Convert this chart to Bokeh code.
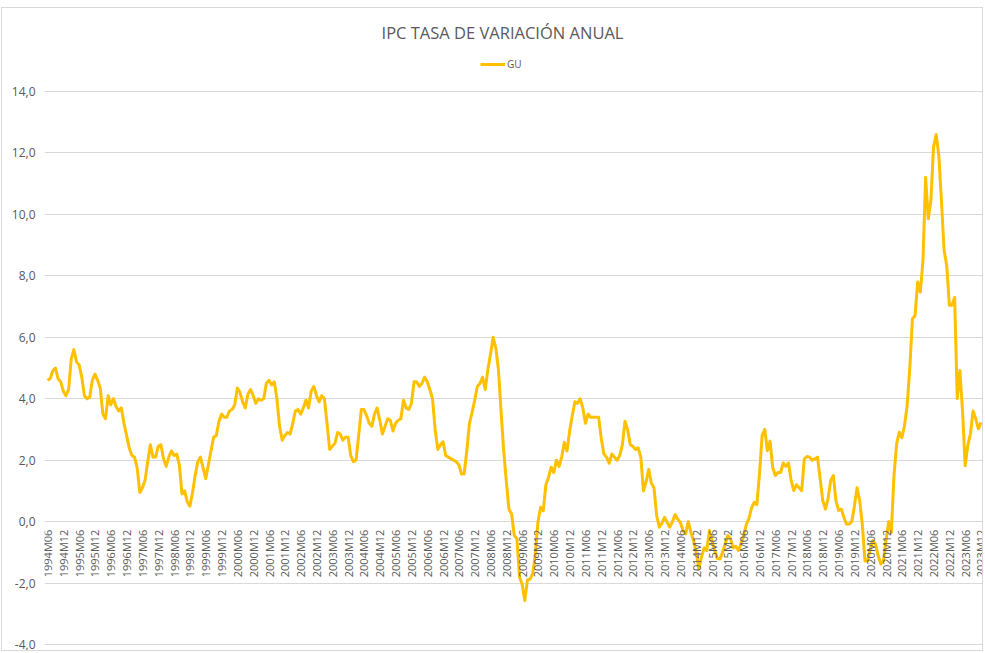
import math
from bokeh.plotting import figure
from bokeh.models import (ColumnDataSource, Range1d, FixedTicker, Label,
                          Legend, LegendItem)
from bokeh.embed import file_html
from bokeh.resources import INLINE
from bokeh.core.properties import value

title_text = "IPC TASA DE VARIACIÓN ANUAL"
series_name = "GU"
first_year, first_month = 1994, 6

# Annual CPI variation rate (%), monthly
gu_1994 = [4.6, 4.65, 4.9, 5.0, 4.65, 4.55, 4.25]  # Jun-Dec
gu_1995 = [4.1, 4.3, 5.3, 5.6, 5.2, 5.1, 4.7, 4.1, 4.0, 4.05, 4.6, 4.8]
gu_1996 = [4.6, 4.35, 3.5, 3.35, 4.1, 3.8, 4.0, 3.75, 3.6, 3.7, 3.2, 2.8]
gu_1997 = [2.4, 2.15, 2.1, 1.75, 0.95, 1.1, 1.35, 1.95, 2.5, 2.1, 2.1, 2.45]
gu_1998 = [2.5, 2.05, 1.8, 2.1, 2.3, 2.15, 2.2, 1.85, 0.9, 1.0, 0.65, 0.5]
gu_1999 = [0.95, 1.5, 1.95, 2.1, 1.75, 1.4, 1.85, 2.3, 2.75, 2.8, 3.25, 3.5]
gu_2000 = [3.4, 3.4, 3.6, 3.65, 3.8, 4.35, 4.2, 3.9, 3.7, 4.15, 4.3, 4.1]
gu_2001 = [3.85, 4.0, 3.95, 4.0, 4.5, 4.6, 4.45, 4.55, 4.0, 3.1, 2.65, 2.8]
gu_2002 = [2.9, 2.85, 3.2, 3.6, 3.65, 3.5, 3.7, 3.95, 3.7, 4.25, 4.4, 4.1]
gu_2003 = [3.9, 4.1, 4.0, 3.2, 2.35, 2.45, 2.55, 2.9, 2.85, 2.65, 2.75, 2.75]
gu_2004 = [2.15, 1.95, 2.0, 2.8, 3.65, 3.65, 3.45, 3.2, 3.1, 3.5, 3.7, 3.3]
gu_2005 = [2.85, 3.1, 3.35, 3.3, 2.95, 3.2, 3.3, 3.35, 3.95, 3.7, 3.65, 3.85]
gu_2006 = [4.55, 4.55, 4.4, 4.5, 4.7, 4.55, 4.3, 4.0, 3.0, 2.35, 2.5, 2.6]
gu_2007 = [2.15, 2.1, 2.05, 2.0, 1.95, 1.85, 1.55, 1.55, 2.3, 3.2, 3.55, 3.95]
gu_2008 = [4.4, 4.5, 4.7, 4.3, 4.95, 5.45, 6.0, 5.65, 4.95, 3.6, 2.3, 1.3]
gu_2009 = [0.4, 0.25, -0.45, -0.55, -1.8, -2.05, -2.57, -1.9, -1.87, -1.7, -1.05, 0.0]
gu_2010 = [0.47, 0.35, 1.2, 1.44, 1.77, 1.6, 2.0, 1.8, 2.1, 2.58, 2.3, 2.95]
gu_2011 = [3.45, 3.9, 3.85, 4.0, 3.7, 3.2, 3.5, 3.4, 3.4, 3.4, 3.4, 2.7]
gu_2012 = [2.2, 2.1, 1.9, 2.2, 2.1, 2.0, 2.15, 2.5, 3.27, 3.0, 2.5, 2.45]
gu_2013 = [2.35, 2.4, 2.1, 1.0, 1.3, 1.7, 1.25, 1.1, 0.2, -0.18, -0.05, 0.14]
gu_2014 = [-0.03, -0.18, 0.0, 0.23, 0.08, -0.03, -0.29, -0.4, 0.0, -0.35, -0.62, -1.0]
gu_2015 = [-1.54, -1.16, -0.85, -0.94, -0.29, -0.62, -0.94, -1.2, -1.22, -1.0, -0.72, -0.45]
gu_2016 = [-0.56, -0.85, -0.8, -0.94, -0.72, -0.45, -0.1, 0.1, 0.45, 0.63, 0.55, 1.55]
gu_2017 = [2.8, 3.0, 2.31, 2.62, 1.77, 1.5, 1.6, 1.6, 1.91, 1.8, 1.91, 1.34]
gu_2018 = [1.01, 1.2, 1.1, 1.01, 2.04, 2.12, 2.1, 2.0, 2.04, 2.1, 1.4, 0.68]
gu_2019 = [0.41, 0.74, 1.34, 1.5, 0.68, 0.36, 0.41, 0.14, -0.08, -0.08, 0.0, 0.5]
gu_2020 = [1.1, 0.68, -0.1, -1.28, -1.28, -0.89, -0.62, -0.73, -1.11, -1.38, -1.28, -0.6]
gu_2021 = [0.0, -0.35, 1.5, 2.53, 2.91, 2.73, 3.13, 3.78, 5.0, 6.6, 6.71, 7.8]
gu_2022 = [7.47, 8.5, 11.2, 9.86, 10.46, 12.19, 12.6, 11.92, 10.46, 8.83, 8.34, 7.04]
gu_2023 = [7.04, 7.3, 4.0, 4.92, 3.6, 1.82, 2.48, 2.86, 3.6, 3.35, 3.02, 3.23]

y_ticks = [-4, -2, 0, 2, 4, 6, 8, 10, 12, 14]
y_tick_labels = ["-4,0", "-2,0", "0,0", "2,0", "4,0", "6,0", "8,0", "10,0", "12,0", "14,0"]

values = (gu_1994 + gu_1995 + gu_1996 + gu_1997 + gu_1998 + gu_1999 + gu_2000 +
          gu_2001 + gu_2002 + gu_2003 + gu_2004 + gu_2005 + gu_2006 + gu_2007 +
          gu_2008 + gu_2009 + gu_2010 + gu_2011 + gu_2012 + gu_2013 + gu_2014 +
          gu_2015 + gu_2016 + gu_2017 + gu_2018 + gu_2019 + gu_2020 + gu_2021 +
          gu_2022 + gu_2023)

periods = []
yy, mm = first_year, first_month
for _ in values:
    periods.append(f"{yy}M{mm:02d}")
    mm += 1
    if mm > 12:
        mm = 1
        yy += 1

idx = list(range(len(values)))
src = ColumnDataSource(dict(x=idx, v=values, period=periods))

tick_idx = [i for i, p in enumerate(periods) if p.endswith("M06") or p.endswith("M12")]
tick_src = ColumnDataSource(dict(x=tick_idx, y=[0] * len(tick_idx),
                                 label=[periods[i] for i in tick_idx]))

GRAY_TXT = "#595959"
FONT = "Open Sans"

p = figure(width=982, height=644, output_backend="svg", toolbar_location=None,
           x_axis_location=None,
           x_range=Range1d(-1.138, 355.33), y_range=Range1d(-4.26, 16.702))
p.min_border = 0
p.min_border_left = 42
p.outline_line_color = None
p.background_fill_color = "white"
p.border_fill_color = "white"
p.styles = {"border": "1px solid #d9d9d9", "margin-left": "1px",
            "margin-top": "7px"}

ticker = FixedTicker(ticks=y_ticks)
p.yaxis.ticker = ticker
p.ygrid.ticker = ticker
p.yaxis.major_label_overrides = dict(zip(y_ticks, y_tick_labels))
p.yaxis.axis_line_color = None
p.yaxis.major_tick_line_color = None
p.yaxis.minor_tick_line_color = None
p.yaxis.major_tick_in = 0
p.yaxis.major_tick_out = 0
p.yaxis.major_label_standoff = 9
p.yaxis.major_label_text_font = FONT
p.yaxis.major_label_text_font_size = "12px"
p.yaxis.major_label_text_color = GRAY_TXT
p.ygrid.grid_line_color = "#d9d9d9"
p.ygrid.grid_line_width = 1
p.xgrid.visible = False

r = p.line("x", "v", source=src, line_color="#FFC000", line_width=3,
           line_join="round")

# category tick labels hanging below the 0 line (category axis crosses at 0)
p.text(x="x", y="y", text="label", source=tick_src, angle=math.pi / 2,
       text_align="right", text_baseline="middle", y_offset=8,
       text_font=value(FONT), text_font_size="11px", text_color=GRAY_TXT)

p.add_layout(Label(x=458, y=620, x_units="screen", y_units="screen",
                   text=title_text, text_align="center", text_baseline="middle",
                   text_font=FONT, text_font_size="16.5px", text_color=GRAY_TXT))

legend = Legend(items=[LegendItem(label=series_name, renderers=[r])],
                location=(436, 581), orientation="horizontal",
                glyph_width=25, glyph_height=12, label_height=12,
                label_standoff=2, padding=0, margin=0,
                border_line_color=None, background_fill_alpha=0,
                label_text_font=FONT, label_text_font_size="10px",
                label_text_color=GRAY_TXT)
p.add_layout(legend)

open("out.html", "w").write(file_html(p, INLINE))
